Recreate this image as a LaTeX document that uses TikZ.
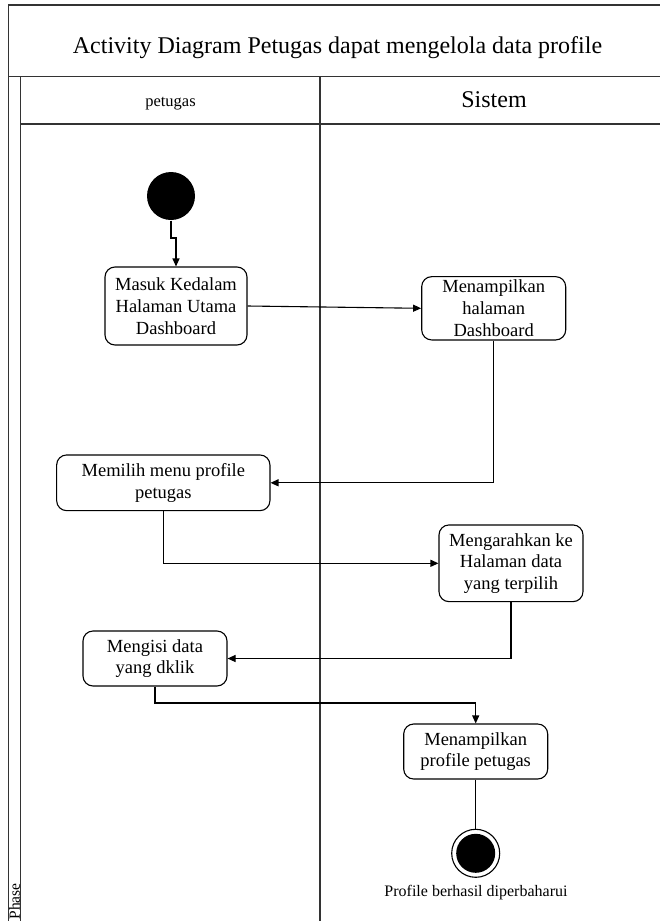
\documentclass[tikz,border=0pt]{standalone}
\usepackage{fontspec}
\setmainfont{Liberation Serif}
\usetikzlibrary{arrows.meta}
\begin{document}
\begin{tikzpicture}[x=1pt,y=-1pt,line width=1.1pt,
  lane/.style={draw=black!80,line width=1.2pt},
  actbox/.style={draw,rounded corners=10pt,align=center,inner sep=2pt,
    font=\fontsize{18.5}{21.7}\selectfont},
  flow/.style={-{Triangle[length=8pt,width=7pt]}},
  plain/.style={-},
  startdot/.style={circle,fill=black,minimum size=48pt,inner sep=0pt},
  enddot/.style={circle,draw,minimum size=48pt,inner sep=0pt}]
\useasboundingbox (0,0) rectangle (659,921);
% frame and swimlanes
\draw[lane] (670,5) -- (8.3,5) -- (8.3,930);
\draw[lane] (8.3,76.7) -- (670,76.7);
\draw[lane] (20.7,76.7) -- (20.7,930);
\draw[lane] (20.7,124) -- (670,124);
\draw[lane] (320,76.7) -- (320,930);
\node[anchor=base,font=\fontsize{24}{28}\selectfont] (title) at (337.5,53.3) {Activity Diagram Petugas dapat mengelola data profile};
\node[anchor=base,font=\fontsize{16.5}{20}\selectfont] (lanea) at (170.5,106) {petugas};
\node[anchor=base,font=\fontsize{24}{28}\selectfont] (laneb) at (494,107.3) {Sistem};
\node[rotate=90,anchor=west,inner sep=0pt,font=\fontsize{15.5}{18}\selectfont] (phase) at (14.5,920) {Phase};
% activity nodes
\node[startdot] (start) at (171,196) {};
\node[actbox,minimum width=142pt,minimum height=78pt] (b1) at (176,306) {Masuk Kedalam\\Halaman Utama\\Dashboard};
\node[actbox,minimum width=144pt,minimum height=63.3pt] (b2) at (493.7,308.3) {Menampilkan\\halaman\\Dashboard};
\node[actbox,minimum width=213.3pt,minimum height=55.7pt] (b3) at (163.3,482.8) {Memilih menu profile\\petugas};
\node[actbox,minimum width=144pt,minimum height=76.7pt] (b4) at (511,563.3) {Mengarahkan ke\\Halaman data\\yang terpilih};
\node[actbox,minimum width=144pt,minimum height=55pt] (b5) at (155,658.5) {Mengisi data\\yang dklik};
\node[actbox,minimum width=144pt,minimum height=55pt] (b6) at (475.7,751.5) {Menampilkan\\profile petugas};
\node[enddot] (end) at (475.7,853.3) {};
\fill (end.center) circle (19.5);
\node[anchor=base,font=\fontsize{16}{19}\selectfont] (endlbl) at (476,896.7) {Profile berhasil diperbaharui};
% connectors
\coordinate (j1) at (171,238);
\coordinate (j2) at (155,703);
\draw[flow] (start.south) -- (j1) -| (b1.north);
\draw[flow] (b1.east) -- (b2.west);
\draw[flow] (b2.south) |- (b3.east);
\draw[flow] (b3.south) |- (b4.west);
\draw[flow] (b4.south) |- (b5.east);
\draw[flow] (b5.south) -- (j2) -| (b6.north);
\draw[plain] (b6.south) -- (end.north);
\end{tikzpicture}
\end{document}
